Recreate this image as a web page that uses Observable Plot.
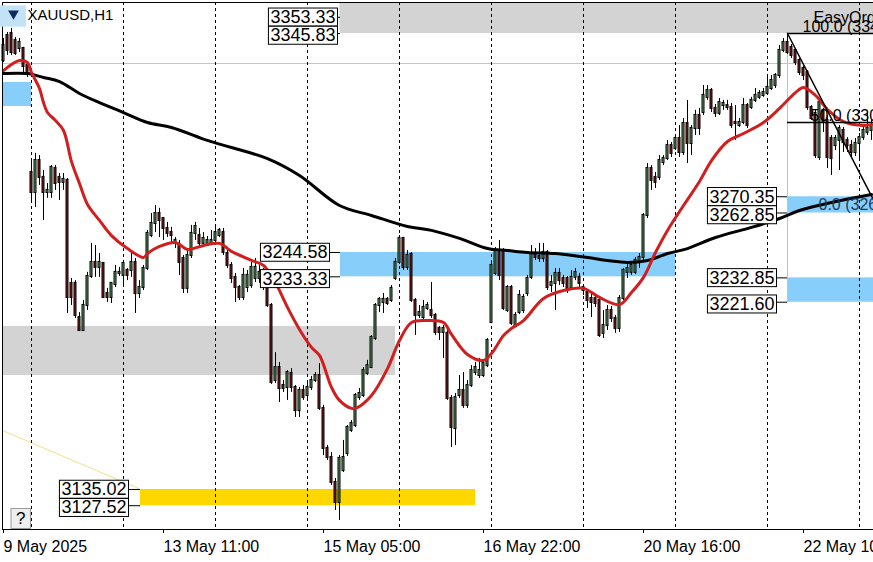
<!DOCTYPE html>
<html><head><meta charset="utf-8">
<script src="https://cdn.jsdelivr.net/npm/d3@7"></script>
<script src="https://cdn.jsdelivr.net/npm/@observablehq/plot@0.6"></script>
<style>
html,body{margin:0;padding:0;background:#fff;}
body{width:873px;height:562px;overflow:hidden;}
svg{display:block}
</style></head><body><div id="chart"></div>
<script>
// ---- XAUUSD H1 candles, one entry per hourly bar (bar 0 = 9 May 16:00) ----
const opens = [3333.3,3344.9,3345.8,3342.6,3338.9,3338.9,3331.0,
3281.6,3272.3,3287.1,3279.3,3272.3,3272.3,3283.4,3279.3,3277.0,3277.9,3230.3,3230.3,3214.5,3208.5,3220.1,3233.5,3240.0,3237.7,3239.5,3225.6,3223.8,3229.8,3234.9,
3234.0,3236.3,3236.3,3240.0,3225.6,3228.4,3237.2,3252.4,3258.0,3262.6,3260.3,3255.7,3253.8,3248.8,3247.8,3241.8,3228.0,3243.2,3253.4,3252.4,3248.8,3248.8,3248.8,
3250.1,3252.4,3253.8,3244.1,3238.6,3233.1,3228.4,3223.8,3228.4,3229.3,3232.6,3232.6,3234.9,3236.3,3220.1,3185.4,3191.4,3183.1,3182.2,3188.7,3182.2,3171.5,3180.8,
3178.5,3182.2,3185.4,3187.7,3172.5,3154.0,3149.8,3138.3,3129.0,3143.8,3151.7,3162.3,3164.6,3177.5,3178.5,3188.7,3191.4,3204.8,3220.1,3221.5,3222.9,3222.4,3232.6,
3240.0,3251.1,3237.7,3243.7,3222.4,3215.5,3214.5,3218.7,3217.8,3215.5,3209.5,3207.6,3207.2,3177.1,3163.2,3178.5,3180.8,3173.9,3183.1,3189.1,3187.7,3187.7,3192.3,
3212.2,3234.9,3245.5,3245.5,3217.8,3228.4,3210.8,3216.8,3217.8,3225.6,3233.1,3244.1,3242.7,3241.8,3244.6,3229.3,3230.3,3234.9,3232.6,3232.6,3228.4,3233.1,3233.1,
3228.4,3226.1,3223.3,3223.3,3222.4,3207.2,3210.8,3217.8,3214.1,3209.5,3223.3,3235.4,3235.4,3235.4,3240.0,3242.3,3261.7,3283.4,3279.3,3279.3,3286.2,3288.0,3294.0,
3292.7,3297.3,3290.8,3304.2,3295.0,3301.9,3307.9,3309.3,3316.3,3319.5,3311.2,3308.9,3312.5,3312.5,3311.6,3304.7,3303.3,3304.7,3312.5,3311.6,3314.9,3316.3,3317.2,
3318.1,3320.4,3321.8,3326.4,3338.0,3341.7,3339.4,3338.0,3333.3,3329.7,3327.8,3311.6,3308.9,3288.5,3310.3,3305.6,3297.3,3294.0,3296.4,3301.0,3296.4,3294.0,3290.8,
3295.0,3297.7,3300.1,3301.0];
const highs = [3343.5,3346.3,3348.2,3344.0,3343.5,3339.4,3332.4,
3287.1,3290.4,3289.4,3282.5,3276.5,3284.8,3284.8,3281.1,3281.1,3278.8,3232.6,3231.6,3216.8,3222.4,3235.4,3248.8,3247.8,3244.1,3240.0,3228.0,3230.7,3238.6,3237.7,
3240.9,3237.2,3244.1,3241.8,3231.6,3238.6,3254.8,3262.6,3266.3,3265.0,3260.8,3258.5,3256.2,3251.5,3250.1,3243.2,3245.5,3257.1,3258.5,3255.7,3253.8,3252.0,3254.8,
3257.1,3255.7,3255.7,3245.5,3240.0,3234.9,3229.3,3237.2,3236.3,3240.0,3241.8,3238.6,3237.2,3237.2,3221.0,3198.3,3193.7,3185.4,3190.0,3190.9,3183.1,3182.2,3183.1,
3184.0,3187.3,3189.1,3193.3,3173.9,3155.4,3152.1,3140.1,3150.7,3157.7,3164.6,3166.9,3179.4,3181.7,3191.4,3194.7,3206.2,3221.0,3223.8,3225.6,3223.8,3229.3,3241.8,
3252.4,3251.5,3245.5,3244.6,3223.3,3220.1,3222.4,3221.5,3230.7,3216.4,3210.4,3210.8,3208.5,3178.5,3179.4,3187.7,3189.1,3185.4,3192.3,3193.7,3195.6,3194.7,3204.8,
3240.0,3246.9,3250.1,3246.4,3229.3,3229.3,3216.8,3227.0,3225.2,3234.0,3247.8,3246.4,3248.8,3248.8,3245.5,3234.0,3237.2,3237.2,3234.0,3233.5,3236.3,3237.2,3234.9,
3229.3,3227.0,3226.1,3224.7,3223.3,3217.8,3220.1,3219.6,3215.5,3224.7,3237.2,3239.5,3240.0,3242.3,3244.1,3262.6,3285.7,3284.8,3281.6,3289.4,3289.4,3296.4,3295.4,
3298.7,3303.3,3306.5,3314.9,3303.3,3310.3,3311.2,3321.8,3321.8,3320.4,3313.0,3315.8,3314.9,3314.9,3313.5,3312.5,3306.5,3315.8,3313.5,3316.3,3320.4,3319.5,3320.4,
3325.5,3326.4,3327.3,3340.3,3343.5,3345.8,3340.7,3338.9,3334.3,3330.6,3328.7,3312.5,3310.3,3314.9,3311.2,3307.9,3298.7,3298.7,3303.3,3302.4,3297.7,3296.4,3297.3,
3299.6,3302.4,3309.3,3305.6];
const lows = [3332.4,3335.7,3335.7,3335.7,3337.0,3327.8,3325.5,
3267.2,3265.4,3275.6,3259.4,3269.6,3269.6,3273.3,3268.6,3273.3,3216.4,3220.1,3214.1,3208.1,3208.1,3217.8,3232.6,3233.1,3233.1,3223.3,3221.5,3221.0,3228.4,3233.5,
3228.4,3231.6,3233.1,3216.4,3223.3,3227.0,3236.3,3251.5,3253.8,3251.5,3250.1,3251.5,3248.8,3246.4,3234.0,3225.6,3225.6,3241.8,3250.1,3246.4,3246.9,3247.8,3247.8,
3248.8,3251.5,3243.2,3237.2,3230.3,3221.5,3222.4,3222.4,3226.1,3228.0,3230.7,3230.3,3227.0,3219.2,3183.6,3184.0,3175.2,3179.9,3176.2,3179.9,3168.3,3168.3,3176.2,
3177.1,3180.8,3184.5,3171.5,3150.7,3148.4,3136.9,3125.3,3120.7,3142.9,3150.3,3161.4,3163.7,3176.2,3177.5,3187.7,3190.9,3203.9,3216.8,3216.4,3220.1,3221.5,3231.6,
3239.1,3236.3,3236.3,3221.5,3206.2,3214.1,3213.1,3217.8,3214.1,3206.2,3203.9,3195.6,3176.2,3154.4,3155.4,3177.1,3172.5,3172.5,3182.2,3187.7,3186.3,3186.8,3191.4,
3211.8,3234.0,3231.6,3217.8,3216.8,3210.8,3209.9,3215.9,3216.4,3224.2,3232.1,3240.9,3240.0,3240.0,3227.0,3226.1,3217.8,3229.3,3228.4,3225.6,3227.0,3231.6,3228.0,
3224.7,3218.7,3214.5,3219.2,3205.3,3204.8,3208.5,3212.2,3207.2,3207.6,3222.4,3232.6,3234.0,3234.4,3237.2,3240.9,3260.3,3273.3,3274.2,3277.9,3284.8,3287.1,3288.5,
3291.7,3288.5,3289.4,3285.7,3289.4,3298.7,3298.7,3307.9,3314.9,3309.3,3307.0,3307.9,3310.3,3310.3,3301.9,3296.4,3302.4,3303.7,3301.9,3310.7,3313.9,3315.3,3316.3,
3317.2,3319.5,3320.4,3325.0,3337.0,3336.1,3334.3,3331.0,3326.4,3324.1,3310.3,3305.6,3288.0,3287.1,3300.1,3283.4,3280.2,3291.7,3282.5,3290.8,3290.8,3288.0,3289.0,
3287.1,3296.4,3298.7,3296.4];
const closes = [3340.3,3338.0,3337.0,3336.6,3341.7,3330.6,3326.9,
3272.3,3287.1,3279.3,3272.3,3273.3,3283.9,3276.5,3277.0,3278.4,3223.8,3223.8,3215.5,3208.5,3220.1,3233.5,3240.0,3237.7,3240.0,3223.8,3223.8,3230.3,3235.4,3235.4,
3239.5,3234.0,3240.0,3225.6,3228.4,3237.2,3253.4,3258.0,3262.6,3259.4,3255.7,3253.4,3252.4,3250.1,3240.0,3228.0,3243.2,3253.4,3256.6,3248.8,3251.1,3250.1,3250.1,
3253.8,3254.8,3244.6,3238.6,3232.6,3228.4,3223.8,3234.0,3234.0,3237.7,3237.7,3235.4,3229.3,3220.1,3184.5,3191.4,3181.7,3181.7,3189.1,3182.2,3171.5,3180.8,3177.5,
3182.2,3185.4,3187.7,3172.5,3154.0,3149.8,3138.3,3129.0,3149.4,3149.8,3163.7,3165.5,3178.5,3179.4,3190.0,3192.3,3205.3,3220.1,3222.9,3222.9,3221.0,3228.0,3240.0,
3251.1,3237.7,3243.2,3222.4,3215.5,3216.8,3219.2,3220.1,3215.5,3207.6,3207.6,3209.5,3177.1,3163.7,3177.5,3180.8,3173.9,3183.1,3190.0,3191.4,3190.0,3193.3,3203.9,
3238.6,3245.5,3234.0,3218.7,3228.4,3211.8,3215.5,3224.7,3223.8,3232.6,3244.1,3242.3,3241.8,3244.6,3228.4,3230.7,3234.9,3231.6,3230.3,3227.0,3233.1,3235.4,3230.3,
3227.0,3222.4,3221.5,3221.0,3206.2,3210.8,3217.8,3214.1,3209.5,3223.3,3236.3,3237.2,3238.6,3240.9,3242.3,3261.7,3283.4,3277.9,3277.0,3287.1,3288.0,3294.0,3290.4,
3297.3,3290.8,3304.2,3295.0,3301.9,3307.9,3301.9,3317.2,3319.5,3311.2,3308.9,3313.9,3313.5,3311.6,3303.3,3304.2,3304.7,3312.5,3303.3,3314.9,3317.2,3318.1,3318.5,
3320.9,3324.1,3326.4,3338.0,3341.7,3337.0,3335.7,3332.4,3327.8,3326.4,3311.6,3306.5,3289.4,3313.9,3304.7,3288.5,3288.0,3297.3,3301.9,3295.4,3294.0,3290.8,3295.0,
3297.7,3301.0,3301.9,3303.3];

// ---- moving averages (bar index -> value) ----
const redMaBars   = [0,4,6,7,9,10,11,13,15,17,19,21,24,27,31,35,36,39,43,46,50,54,57,62,65,67,68,71,74,77,79,82,84,87,88,92,96,99,102,106,110,112,116,120,122,125,127,130,135,140,145,149,154,157,160,163,166,170,174,177,181,185,190,194,198,200,203,206,210,215,217];
const redMaValues = [3328.7,3333.3,3332.4,3327.8,3320.4,3313.9,3309.3,3305.6,3301.0,3286.6,3276.5,3266.8,3259.4,3252.4,3246.4,3242.3,3244.1,3247.4,3249.2,3246.0,3247.8,3248.8,3245.1,3240.9,3238.6,3233.5,3230.7,3219.2,3209.0,3200.7,3197.0,3182.2,3176.2,3172.5,3172.5,3178.5,3190.9,3203.9,3212.2,3213.1,3212.2,3206.7,3197.4,3194.7,3197.9,3206.2,3209.5,3213.1,3223.3,3227.0,3228.0,3223.8,3220.5,3226.1,3233.1,3244.6,3254.8,3266.3,3277.4,3287.1,3295.9,3299.6,3304.7,3311.2,3318.5,3320.9,3317.2,3310.7,3305.1,3303.3,3303.7];
const blackMaBars   = [0,6,10,14,19,24,30,36,42,51,57,66,74,84,92,101,107,114,121,126,131,138,146,151,156,161,166,171,178,187,194,199,207,217];
const blackMaValues = [3327.3,3327.3,3325.5,3323.6,3318.1,3313.9,3309.3,3304.7,3302.4,3296.4,3293.1,3288.0,3280.2,3266.3,3261.7,3256.6,3254.8,3251.1,3246.4,3245.5,3244.6,3244.1,3242.3,3240.9,3240.0,3240.9,3244.1,3246.4,3251.5,3256.2,3260.3,3264.0,3267.7,3271.4];

// ---- time axis ----
const daySeparatorBars = [7,30,53,76,99,122,145,168,191,214];
const axisTickBars   = [0,40,80,120,160,200];
const axisTickLabels = ["9 May 2025","13 May 11:00","15 May 05:00","16 May 22:00","20 May 16:00","22 May 10:00"];

// ---- zones (bar range, price range, kind) ----
const zoneStartBar = [84.25, -0.25, -0.25, 84.25, 196, 196, 34.25];
const zoneEndBar   = [217.5, 7, 98, 168, 217.5, 217.5, 118];
const zoneLow      = [3345.83, 3312.1, 3187.7, 3233.33, 3262.85, 3221.60, 3127.52];
const zoneHigh     = [3360.16, 3323.2, 3210.4, 3244.58, 3270.35, 3232.85, 3135.02];
const zoneKind     = ["gray","blue","gray","blue","blue","blue","yellow"];

// ---- price labels on zones ----
const labelPrices   = [3353.33, 3345.83, 3244.58, 3233.33, 3270.35, 3262.85, 3232.85, 3221.60, 3135.02, 3127.52];
const labelBoxRight = [83.75, 83.75, 81.75, 81.75, 193.5, 193.5, 193.5, 193.5, 31.5, 31.5];
const labelZoneBar  = [84.25, 84.25, 84.25, 84.25, 196, 196, 196, 196, 34.25, 34.25];

// ---- Fibonacci retracement ----
const fibStartBar = 196, fibEndBar = 219;
const fibHigh = 3345.83, fibLow = 3263.60;
const fibLevelPct = [100, 50, 0];
const fibTextBar = [199.75, 201.75, 203.75];
const priceLine = 3331.96;
const yellowTrendBars = [-0.25, 33.75];
const yellowTrendPrices = [3162.3, 3135.5];

// ---- styles ----
const zoneFill = {gray:"#d3d3d3", blue:"#87cefa", yellow:"#ffd700"};
const bullFill = "#5b9e5b", bearFill = "#8c1616";
const yTop = 3360.16, yBottom = 3116.52, xFirst = -0.25, xLast = 217.5;

const bars = opens.map((o, i) => ({
  i, open: o, close: closes[i],
  high: Math.max(highs[i], o, closes[i]), low: Math.min(lows[i], o, closes[i])
}));
const redMA = redMaBars.map((b, k) => ({i: b, v: redMaValues[k]}));
const blackMA = blackMaBars.map((b, k) => ({i: b, v: blackMaValues[k]}));
const zones = zoneStartBar.map((s, k) => ({start: s, end: zoneEndBar[k], low: zoneLow[k], high: zoneHigh[k], kind: zoneKind[k]}));
const labels = labelPrices.map((p, k) => ({price: p, boxRight: labelBoxRight[k], zone: labelZoneBar[k], upper: k % 2 === 0}));
const fibLevels = fibLevelPct.map((pct, k) => {
  const price = fibLow + (fibHigh - fibLow) * pct / 100;
  return {pct, price, bar: fibTextBar[k], text: pct.toFixed(1) + " (" + price.toFixed(2) + ")"};
});
const yellowTrend = yellowTrendBars.map((b, k) => ({i: b, v: yellowTrendPrices[k]}));

const chart = Plot.plot({
  width: 873, height: 562,
  marginLeft: 2, marginRight: 0, marginTop: 2, marginBottom: 33,
  x: {domain: [xFirst, xLast], axis: null},
  y: {domain: [yBottom, yTop], axis: null},
  style: {fontFamily: "'Liberation Sans', Arial, sans-serif", fontSize: "16px", background: "#fff", color: "#000", overflow: "hidden"},
  marks: [
    Plot.rect(zones, {x1: "start", x2: "end", y1: "low", y2: "high", fill: d => zoneFill[d.kind], clip: true}),
    Plot.ruleY([priceLine], {stroke: "#c4c4c4", strokeWidth: 1}),
    Plot.line(yellowTrend, {x: "i", y: "v", stroke: "#efe08a", strokeWidth: 1}),
    Plot.ruleX([{x: 84, y1: 3347.5, y2: yTop}], {x: "x", y1: "y1", y2: "y2", stroke: "#f2e6a0"}),
    Plot.ruleX(daySeparatorBars, {stroke: "#000", strokeWidth: 1, strokeDasharray: "3,3"}),
    Plot.ruleX([{x: fibStartBar, y1: 3221.6, y2: fibHigh}], {x: "x", y1: "y1", y2: "y2", stroke: "#a9c8e6", strokeWidth: 1}),
    // candles
    Plot.ruleX(bars, {x: "i", y1: "low", y2: "high", stroke: "#000", strokeWidth: 1}),
    Plot.rect(bars, {x1: d => d.i - 0.25, x2: d => d.i + 0.25, y1: "open", y2: "close",
      fill: d => d.close >= d.open ? bullFill : bearFill, stroke: "#000", strokeWidth: 1,
      insetTop: -0.5, insetBottom: -0.5}),
    // moving averages
    Plot.line(blackMA, {x: "i", y: "v", stroke: "#000", strokeWidth: 3, curve: "catmull-rom"}),
    Plot.line(redMA, {x: "i", y: "v", stroke: "#d11f1f", strokeWidth: 3, curve: "catmull-rom"}),
    // fibonacci
    Plot.ruleY(fibLevels.filter(d => d.pct > 0), {y: "price", x1: () => fibStartBar, x2: () => xLast, stroke: "#000", strokeWidth: 1.5}),
    Plot.line([{i: fibStartBar, v: fibHigh}, {i: fibEndBar, v: fibLow}], {x: "i", y: "v", stroke: "#000", strokeWidth: 1.5, clip: true}),
    Plot.text(["EasyOrder"], {x: () => 202.5, y: () => 3350.6, textAnchor: "start", lineAnchor: "bottom", fontSize: 16, fill: "#000"}),
    Plot.text(fibLevels, {x: "bar", y: "price", text: "text", textAnchor: "start", lineAnchor: "bottom", dy: -1, fontSize: 16, fill: d => d.pct === 0 ? "#1b3a5c" : "#000"}),
    // price labels
    Plot.ruleY(labels, {y: "price", x1: "boxRight", x2: "zone", stroke: "#000"}),
    Plot.text(labels.filter(d => d.upper), {x: "boxRight", y: "price", text: d => d.price.toFixed(2), textAnchor: "end", dx: -3, fontSize: 18}),
    Plot.text(labels.filter(d => !d.upper), {x: "boxRight", y: "price", text: d => d.price.toFixed(2), textAnchor: "end", dx: -3, dy: 2, fontSize: 18}),
    // frame
    Plot.ruleY([yBottom], {stroke: "#000"}),
    Plot.ruleY([yTop], {stroke: "#000"}),
    Plot.ruleX([xFirst], {stroke: "#000"}),
    Plot.axisX({ticks: axisTickBars, tickFormat: d => axisTickLabels[axisTickBars.indexOf(d)], tickSize: 4, tickPadding: 7, textAnchor: "start", fontSize: 16, dx: 0}),
    // header & help button
    Plot.dot([0], {frameAnchor: "top-left", dx: 11, dy: 11, symbol: "triangle", r: 4, fill: "#0d2b5e", rotate: 180, className: "oneclick"}),
    Plot.text(["XAUUSD,H1"], {frameAnchor: "top-left", dx: 25, dy: 7, textAnchor: "start", lineAnchor: "top", fontSize: 15}),
    Plot.text(["?"], {frameAnchor: "bottom-left", dx: 13.5, dy: -6, fontSize: 17})
  ]
});
document.getElementById("chart").append(chart);

function addBox(el, pad, fill, stroke) {
  const bb = el.getBBox();
  const r = document.createElementNS("http://www.w3.org/2000/svg", "rect");
  r.setAttribute("x", bb.x - pad[0]);
  r.setAttribute("y", bb.y - pad[1]);
  r.setAttribute("width", bb.width + pad[0] + pad[2]);
  r.setAttribute("height", bb.height + pad[1] + pad[3]);
  r.setAttribute("fill", fill);
  r.setAttribute("stroke", stroke || "none");
  r.setAttribute("stroke-width", 1);
  const t = el.getAttribute("transform");
  if (t) r.setAttribute("transform", t);
  el.parentNode.insertBefore(r, el);
}
const labelTexts = new Set(labelPrices.map(p => p.toFixed(2)));
chart.querySelectorAll("text").forEach(el => {
  const s = el.textContent;
  if (labelTexts.has(s)) addBox(el, [2, -1, 2, -1], "#fff", "#000");
  else if (s === "?") addBox(el, [5, 0, 5, 1], "#eeeeee", "#9a9a9a");
});
chart.querySelectorAll("g.oneclick path").forEach(el => addBox(el, [7, 7, 11, 5], "#c4e2f6", null));
</script></body></html>
